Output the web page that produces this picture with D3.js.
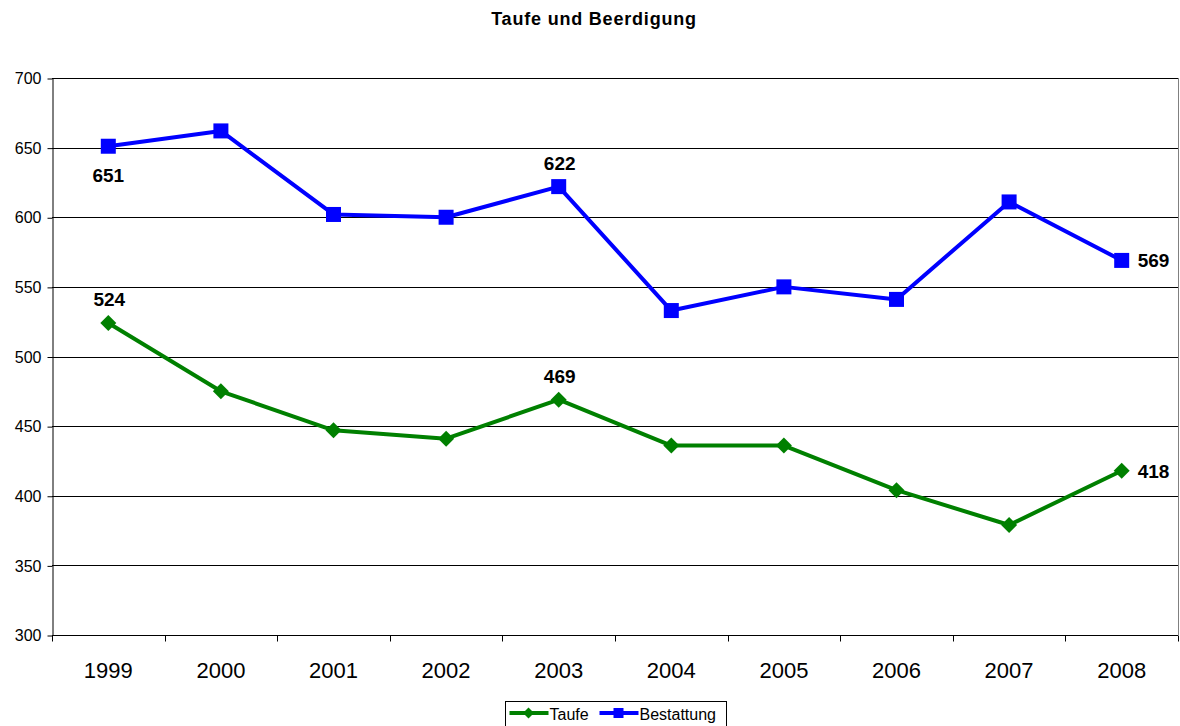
<!DOCTYPE html>
<html>
<head>
<meta charset="utf-8">
<script src="https://cdn.jsdelivr.net/npm/d3@7"></script>
<style>
  body { margin: 0; background: #fff; }
  svg text { font-family: "Liberation Sans", Arial, sans-serif; }
</style>
</head>
<body>
<svg id="chart" width="1180" height="726"></svg>
<script>
// data
var years = ["1999", "2000", "2001", "2002", "2003", "2004", "2005", "2006", "2007", "2008"];
var taufe = [524, 475, 447, 441, 469, 436, 436, 404, 379, 418];
var bestattung = [651, 662, 602, 600, 622, 533, 550, 541, 611, 569];
var yTicks = [300, 350, 400, 450, 500, 550, 600, 650, 700];
// which points carry a label, and where
var taufeLabels = [{i: 0, pos: "above"}, {i: 4, pos: "above"}, {i: 9, pos: "right"}];
var bestLabels = [{i: 0, pos: "below"}, {i: 4, pos: "above"}, {i: 9, pos: "right"}];

var plotLeft = 52, plotRight = 1178, plotTop = 78, plotBottom = 635;

var svg = d3.select("#chart");

var x = d3.scaleBand().domain(years).range([plotLeft, plotRight]);
var y = d3.scaleLinear().domain([300, 700]).range([plotBottom, plotTop]);

// title
svg.append("text")
    .attr("x", 594).attr("y", 25)
    .attr("text-anchor", "middle")
    .style("font-size", "18px").style("font-weight", "bold")
    .style("letter-spacing", "0.8px")
    .text("Taufe und Beerdigung");

// gridlines
svg.append("g").selectAll("line")
    .data(yTicks.slice(1))
    .enter().append("line")
    .attr("x1", plotLeft).attr("x2", plotRight)
    .attr("y1", function(d) { return Math.round(y(d)) + 0.5; })
    .attr("y2", function(d) { return Math.round(y(d)) + 0.5; })
    .style("stroke", "#000").style("stroke-width", 1);

// right border of plot area
svg.append("line")
    .attr("x1", plotRight + 0.5).attr("x2", plotRight + 0.5)
    .attr("y1", plotTop).attr("y2", plotBottom)
    .style("stroke", "#808080");

// y axis
var yAxis = svg.append("g")
    .attr("transform", "translate(" + (plotLeft + 0.5) + ",0.5)")
    .call(d3.axisLeft(y).tickValues(yTicks).tickSize(5).tickSizeOuter(0));
yAxis.selectAll("text").style("font-size", "16px").attr("dx", "-3px").style("fill", "#000");
yAxis.selectAll("line").style("stroke", "#000");
yAxis.select(".domain").style("stroke", "#000");

// x axis, ticks between categories
var xAxis = svg.append("g")
    .attr("transform", "translate(0," + (plotBottom + 0.5) + ")");
xAxis.append("line")
    .attr("x1", plotLeft).attr("x2", plotRight)
    .style("stroke", "#000");
xAxis.selectAll("line.tk")
    .data(years.concat(["end"]))
    .enter().append("line")
    .attr("class", "tk")
    .attr("x1", function(d, i) { return Math.round(plotLeft + i * x.bandwidth()) + 0.5; })
    .attr("x2", function(d, i) { return Math.round(plotLeft + i * x.bandwidth()) + 0.5; })
    .attr("y1", 0).attr("y2", 6)
    .style("stroke", "#000");
xAxis.selectAll("text")
    .data(years)
    .enter().append("text")
    .attr("x", function(d) { return x(d) + x.bandwidth() / 2; })
    .attr("y", 42)
    .attr("text-anchor", "middle")
    .style("font-size", "22px")
    .text(function(d) { return d; });

function cx(i) { return x(years[i]) + x.bandwidth() / 2; }

var line = d3.line()
    .x(function(d, i) { return cx(i); })
    .y(function(d) { return y(d); });

function diamond(r) {
    return "M0," + (-r) + "L" + r + ",0L0," + r + "L" + (-r) + ",0Z";
}

function drawSeries(values, color, shape) {
    svg.append("path")
        .datum(values)
        .attr("d", line)
        .style("fill", "none")
        .style("stroke", color)
        .style("stroke-width", 4)
        .style("stroke-linejoin", "round");
    var g = svg.append("g");
    if (shape == "square") {
        g.selectAll("rect").data(values).enter().append("rect")
            .attr("x", function(d, i) { return cx(i) - 7.5; })
            .attr("y", function(d) { return y(d) - 7.5; })
            .attr("width", 15).attr("height", 15)
            .style("fill", color);
    } else {
        g.selectAll("path").data(values).enter().append("path")
            .attr("d", diamond(8))
            .attr("transform", function(d, i) { return "translate(" + cx(i) + "," + y(d) + ")"; })
            .style("fill", color);
    }
}

drawSeries(taufe, "#008000", "diamond");
drawSeries(bestattung, "#0000ff", "square");

function drawLabels(values, labels) {
    labels.forEach(function(l) {
        var px = cx(l.i), py = y(values[l.i]);
        var t = svg.append("text")
            .style("font-size", "19px").style("font-weight", "bold")
            .text(values[l.i]);
        if (l.pos == "above") t.attr("x", px + 1).attr("y", py - 17).attr("text-anchor", "middle");
        else if (l.pos == "below") t.attr("x", px).attr("y", py + 36).attr("text-anchor", "middle");
        else t.attr("x", px + 16).attr("y", py + 7).attr("text-anchor", "start");
    });
}
drawLabels(taufe, taufeLabels);
drawLabels(bestattung, bestLabels);

// legend
var lg = svg.append("g").attr("transform", "translate(505.5,701.5)");
lg.append("rect").attr("width", 221).attr("height", 27)
    .style("fill", "#fff").style("stroke", "#000");
var items = [{name: "Taufe", color: "#008000", shape: "diamond", x: 4},
             {name: "Bestattung", color: "#0000ff", shape: "square", x: 94}];
items.forEach(function(it) {
    lg.append("line").attr("x1", it.x).attr("x2", it.x + 39).attr("y1", 11.5).attr("y2", 11.5)
        .style("stroke", it.color).style("stroke-width", 4);
    if (it.shape == "square") {
        lg.append("rect").attr("x", it.x + 14).attr("y", 6.5).attr("width", 10).attr("height", 10).style("fill", it.color);
    } else {
        lg.append("path").attr("d", diamond(5.5))
            .attr("transform", "translate(" + (it.x + 19) + ",11.5)").style("fill", it.color);
    }
    lg.append("text").attr("x", it.x + 40).attr("y", 18)
        .style("font-size", "16px").text(it.name);
});
</script>
</body>
</html>
